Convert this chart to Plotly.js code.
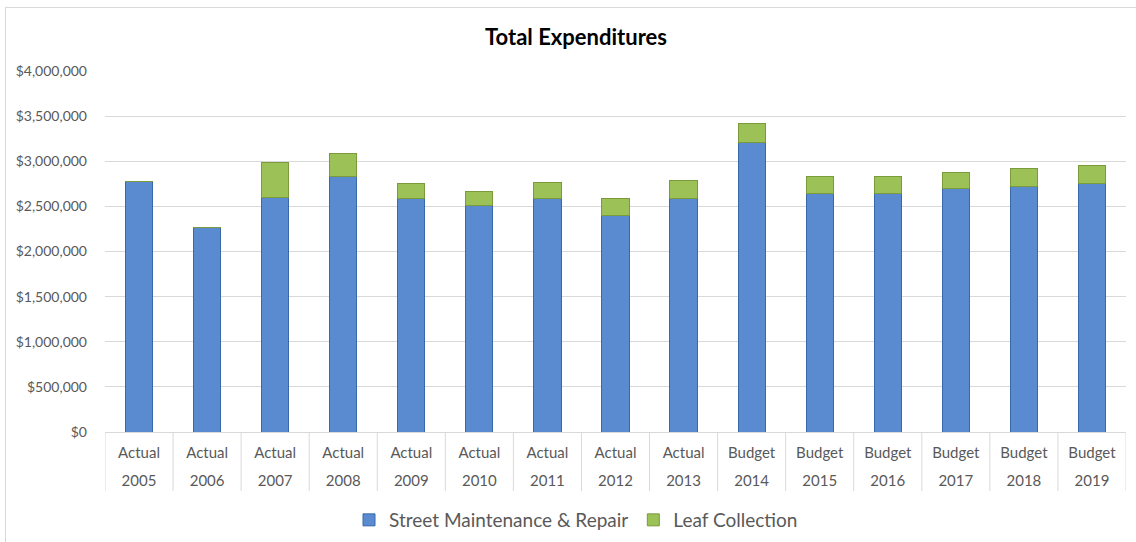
<!DOCTYPE html>
<html>
<head>
<meta charset="utf-8">
<script src="https://cdn.plot.ly/plotly-3.0.1.min.js"></script>
<style>
html,body{margin:0;padding:0;background:#fff;overflow:hidden;width:1136px;height:542px;}
#chart{position:absolute;left:5px;top:7px;width:1140px;height:545px;border:1px solid #d9d9d9;box-sizing:content-box;}
</style>
</head>
<body>
<div id="chart"></div>
<script>
const years = ["2005","2006","2007","2008","2009","2010","2011","2012","2013","2014","2015","2016","2017","2018","2019"];
const types = ["Actual","Actual","Actual","Actual","Actual","Actual","Actual","Actual","Actual","Budget","Budget","Budget","Budget","Budget","Budget"];
const streetMaintenance = [2772000,2262000,2594000,2827000,2583000,2509000,2583000,2398000,2583000,3204000,2638000,2642000,2694000,2723000,2753000];
const leafCollection = [0,0,388000,255000,170000,158000,177000,189000,203000,214000,196000,185000,184000,196000,199000];
const yTicks = [0,500000,1000000,1500000,2000000,2500000,3000000,3500000,4000000];
const yTickLabels = ["$0","$500,000","$1,000,000","$1,500,000","$2,000,000","$2,500,000","$3,000,000","$3,500,000","$4,000,000"];

const FONT = "Lato, 'Open Sans', sans-serif";
const idx = years.map((_, i) => i);

const traces = [
  {
    type: "bar",
    name: "Street Maintenance & Repair",
    x: years,
    y: streetMaintenance,
    marker: {color: "#5a8ad0", line: {color: "#3b68a8", width: 1}},
    hoverinfo: "y"
  },
  {
    type: "bar",
    name: "Leaf Collection",
    x: years,
    y: leafCollection,
    marker: {color: "#9cc257", line: {color: "#7a9a3c", width: 1}},
    hoverinfo: "y"
  },
  {
    // carrier for the second (year) label row; draws nothing
    type: "scatter",
    mode: "markers",
    x: idx,
    y: idx.map(() => 0),
    xaxis: "x2",
    yaxis: "y",
    marker: {opacity: 0, size: 1},
    showlegend: false,
    hoverinfo: "skip"
  }
];

// category dividers between the two-row labels
const dividers = [];
for (let i = 0; i <= years.length; i++) {
  dividers.push({
    type: "line", xref: "x", yref: "paper",
    x0: i - 0.5, x1: i - 0.5, y0: 0, y1: -59/361,
    line: {color: "#d9d9d9", width: 1}, layer: "below"
  });
}

const layout = {
  width: 1140,
  height: 545,
  barmode: "stack",
  bargap: 0.6,
  paper_bgcolor: "#ffffff",
  plot_bgcolor: "#ffffff",
  margin: {l: 99, r: 20, t: 63, b: 121},
  font: {family: FONT, color: "#595959", size: 14},
  title: {
    text: "<b>Total Expenditures</b>",
    font: {family: FONT, size: 22, color: "#000000"},
    x: 0.5, xref: "container", xanchor: "center",
    y: 1 - 29/545, yref: "container", yanchor: "middle"
  },
  xaxis: {
    type: "category",
    range: [-0.5, years.length - 0.5],
    tickvals: years,
    ticktext: types,
    showgrid: false,
    showline: true,
    linecolor: "#d9d9d9",
    linewidth: 1,
    ticks: "",
    ticklabelstandoff: 7,
    tickfont: {family: FONT, size: 15, color: "#595959"}
  },
  xaxis2: {
    type: "linear",
    overlaying: "x",
    anchor: "y",
    side: "bottom",
    range: [-0.5, years.length - 0.5],
    tickvals: idx,
    ticktext: years,
    showgrid: false,
    showline: false,
    zeroline: false,
    ticks: "",
    ticklabelstandoff: 38,
    tickfont: {family: FONT, size: 15, color: "#595959"}
  },
  yaxis: {
    range: [0, 4000000],
    tickvals: yTicks,
    ticktext: yTickLabels,
    showgrid: true,
    gridcolor: "#d9d9d9",
    gridwidth: 1,
    zeroline: false,
    showline: false,
    ticks: "",
    ticklabelstandoff: 17,
    tickfont: {family: FONT, size: 14, color: "#595959"}
  },
  shapes: dividers,
  showlegend: true,
  legend: {
    orientation: "h",
    x: 0.5, xref: "container", xanchor: "center",
    y: 1 - 512/545, yref: "container", yanchor: "middle",
    font: {family: FONT, size: 19, color: "#595959"},
    traceorder: "normal",
    itemwidth: 30
  }
};

Plotly.newPlot("chart", traces, layout, {displayModeBar: false, staticPlot: true});
</script>
</body>
</html>
